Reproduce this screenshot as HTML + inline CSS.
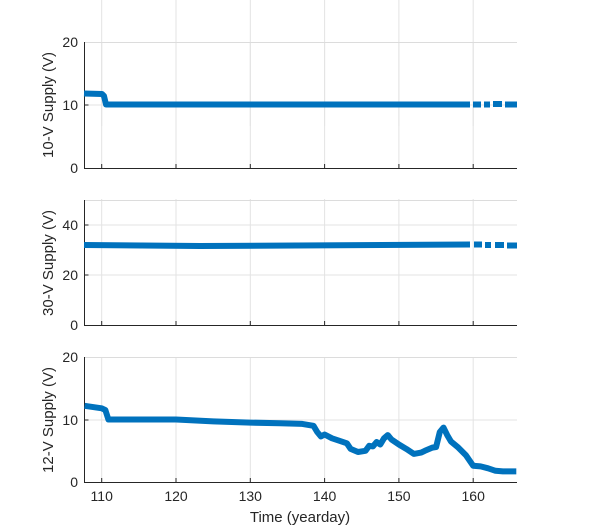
<!DOCTYPE html><html><head><style>body{margin:0;background:#fff}svg text{font-family:"Liberation Sans",sans-serif;fill:#262626}</style></head><body>
<svg width="600" height="525" xmlns="http://www.w3.org/2000/svg">
<g stroke="#e3e3e3" stroke-width="1">
<g id="vg"><line x1="101.7" y1="0" x2="101.7" y2="126"/><line x1="176" y1="0" x2="176" y2="126"/><line x1="250.3" y1="0" x2="250.3" y2="126"/><line x1="324.6" y1="0" x2="324.6" y2="126"/><line x1="398.9" y1="0" x2="398.9" y2="126"/><line x1="473.2" y1="0" x2="473.2" y2="126"/></g>
</g>
<g stroke="#e3e3e3">
<use href="#vg" y="42"/><use href="#vg" y="199"/><use href="#vg" y="357"/>
<line x1="84" y1="105" x2="517" y2="105"/>
<line x1="84" y1="275" x2="517" y2="275"/><line x1="84" y1="225" x2="517" y2="225"/>
<line x1="84" y1="420" x2="517" y2="420"/>
<path d="M84 42.5H517M84 200.5H517M84 357.5H517" stroke="#dcdcdc"/>
</g>
<g stroke="#262626" stroke-width="1" fill="none">
<path d="M84.5 42V168.5H517"/>
<path d="M84.5 200V325.5H517"/>
<path d="M84.5 357V482.5H517"/>
<g id="tk"><path d="M101.7 168v-4M176 168v-4M250.3 168v-4M324.6 168v-4M398.9 168v-4M473.2 168v-4"/></g>
<use href="#tk" y="157"/><use href="#tk" y="314"/>
<path d="M84.5 105h4M84.5 275h4M84.5 225h4M84.5 420h4"/>
</g>
<g font-size="14" text-anchor="end">
<text x="78" y="47">20</text><text x="78" y="110">10</text><text x="78" y="173">0</text>
<text x="78" y="230">40</text><text x="78" y="280">20</text><text x="78" y="330">0</text>
<text x="78" y="362">20</text><text x="78" y="425">10</text><text x="78" y="487">0</text>
</g>
<g font-size="14" text-anchor="middle">
<text x="101.7" y="501">110</text><text x="176" y="501">120</text><text x="250.3" y="501">130</text><text x="324.6" y="501">140</text><text x="398.9" y="501">150</text><text x="473.2" y="501">160</text>
<text x="300" y="522" font-size="15">Time (yearday)</text>
<text transform="translate(53,105) rotate(-90)" font-size="15">10-V Supply (V)</text>
<text transform="translate(53,263) rotate(-90)" font-size="15">30-V Supply (V)</text>
<text transform="translate(53,420) rotate(-90)" font-size="15">12-V Supply (V)</text>
</g>
<g stroke="#0072BD" stroke-width="6" fill="none" stroke-linejoin="round">
<path d="M84 93.5L102 94L104 96L106 104.5L470 104.5"/>
<path d="M473 104.5h8M484 104.5h6M493 104h9M505 104.5h12" />
<path d="M84 245L200 246L470 244.5M474 244.5h8M485 245h6M495 245h9M507 245.5h10"/>
<path id="p3" d=""/>
</g>
<script>
var d=[[107.7,12.2],[110,11.8],[110.5,11.5],[110.9,10],[112,10],[120,10],[125,9.7],[130,9.5],[134,9.4],[137,9.3],[138.5,9.0],[139,8],[139.5,7.3],[140,7.6],[141,7],[142,6.6],[143,6.2],[143.5,5.3],[144.5,4.8],[145.5,5],[146,5.8],[146.5,5.7],[147,6.4],[147.5,6],[148,7],[148.5,7.5],[149,6.8],[150,6],[151,5.3],[152,4.5],[153,4.7],[153.5,5],[154.5,5.5],[155,5.6],[155.5,8],[156,8.7],[156.5,7.5],[157,6.5],[158,5.5],[159,4.3],[160,2.6],[161,2.5],[162,2.2],[163,1.8],[164,1.7],[165.8,1.7]];
document.getElementById('p3').setAttribute('d','M'+d.map(function(p){return (176+(p[0]-120)*7.43).toFixed(1)+' '+(482-p[1]*6.25).toFixed(1)}).join('L'));
</script>
</svg></body></html>
